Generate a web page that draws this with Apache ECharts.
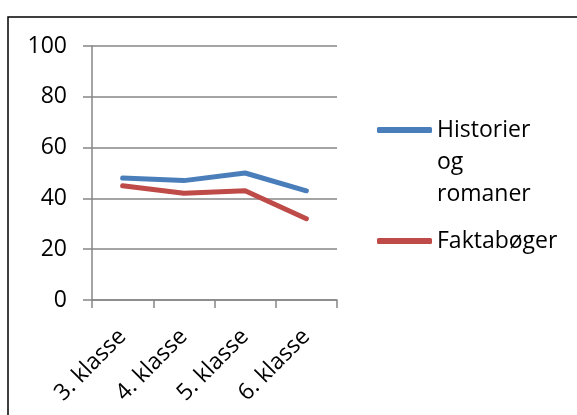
<!DOCTYPE html>
<html>
<head>
<meta charset="utf-8">
<script src="https://cdn.jsdelivr.net/npm/echarts@6/dist/echarts.min.js"></script>
<style>
html,body{margin:0;padding:0;background:#fff;}
#chart{width:577px;height:415px;}
</style>
</head>
<body>
<div id="chart"></div>
<script>
// klassetrin
let klasser = ['3. klasse', '4. klasse', '5. klasse', '6. klasse'];
// serier
let historier = [48, 47, 50, 43];
let fakta = [45, 42, 43, 32];
let yTicks = [0, 20, 40, 60, 80, 100];

let chart = echarts.init(document.getElementById('chart'));
let fontFam = 'Open Sans';
let option = {
    animation: false,
    backgroundColor: '#ffffff',
    graphic: [{
        type: 'rect',
        shape: { x: 8, y: 17, width: 620, height: 460 },
        style: { fill: 'none', stroke: '#000000', lineWidth: 1.5 },
        silent: true
    }],
    grid: {
        left: 92,
        right: 240,
        top: 46,
        bottom: 115,
        outerBoundsMode: 'none'
    },
    legend: {
        orient: 'vertical',
        left: 377,
        top: 50,
        padding: 0,
        itemGap: 15,
        itemWidth: 55,
        itemHeight: 6,
        icon: 'roundRect',
        textStyle: {
            fontFamily: fontFam,
            fontSize: 23,
            color: '#000',
            lineHeight: 32
        },
        formatter: function (name) {
            // første linje på højde med stregen
            if (name === 'Historier og romaner') {
                return '\n\nHistorier\nog\nromaner';
            }
            return name;
        },
        data: ['Historier og romaner', 'Faktabøger']
    },
    xAxis: {
        type: 'category',
        data: klasser,
        boundaryGap: true,
        axisLine: { lineStyle: { color: '#868686', width: 1.5 } },
        axisTick: { show: true, length: 8, lineStyle: { color: '#868686', width: 1.5 } },
        axisLabel: {
            rotate: 45,
            margin: 33,
            color: '#000',
            fontFamily: fontFam,
            fontSize: 23
        }
    },
    yAxis: {
        type: 'value',
        min: yTicks[0],
        max: yTicks[yTicks.length - 1],
        interval: 20,
        axisLine: { show: true, lineStyle: { color: '#868686', width: 1.5 } },
        axisTick: { show: true, length: 9, lineStyle: { color: '#868686', width: 1.5 } },
        splitLine: { show: true, lineStyle: { color: '#868686', width: 1.5 } },
        axisLabel: {
            margin: 25,
            color: '#000',
            fontFamily: fontFam,
            fontSize: 23
        }
    },
    series: [{
        name: 'Historier og romaner',
        type: 'line',
        data: historier,
        showSymbol: false,
        symbol: 'none',
        itemStyle: { color: '#4a7ebb' },
        lineStyle: { color: '#4a7ebb', width: 5, cap: 'round', join: 'round' }
    }, {
        name: 'Faktabøger',
        type: 'line',
        data: fakta,
        showSymbol: false,
        symbol: 'none',
        itemStyle: { color: '#be4b48' },
        lineStyle: { color: '#be4b48', width: 5, cap: 'round', join: 'round' }
    }]
};
chart.setOption(option);
</script>
</body>
</html>
